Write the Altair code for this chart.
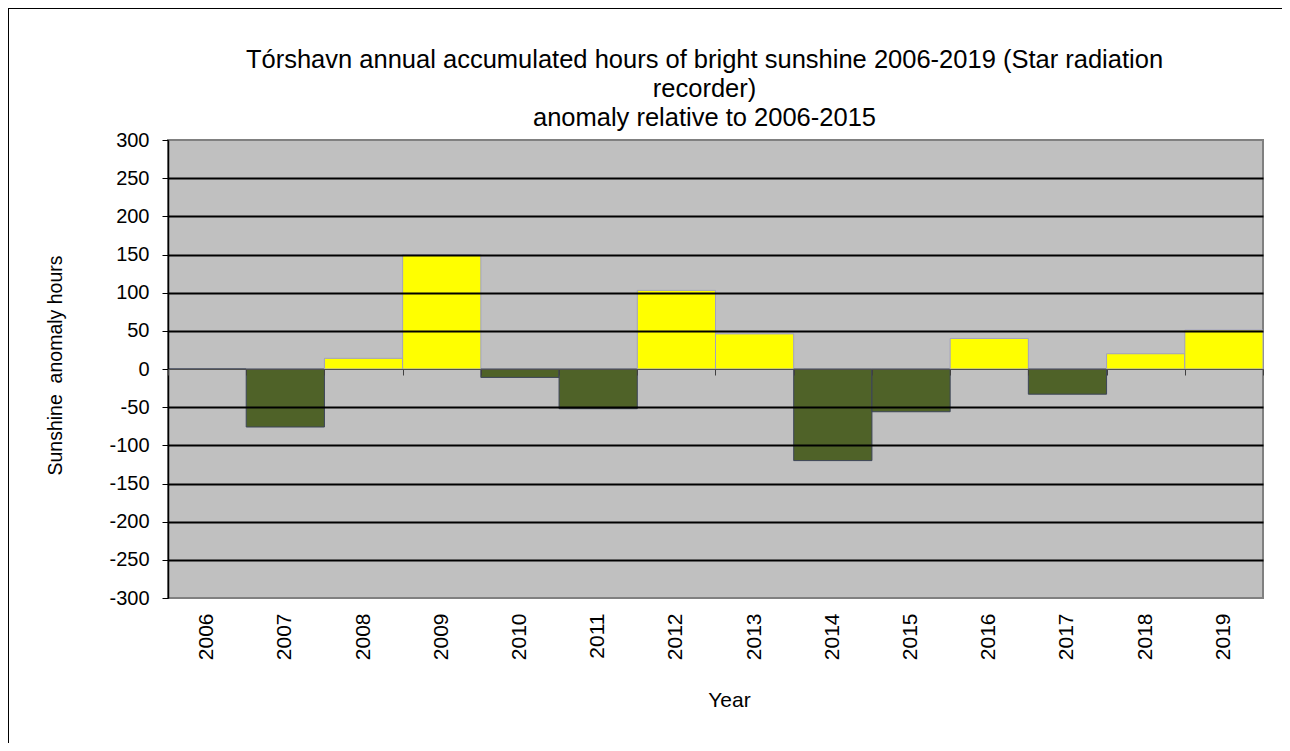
import altair as alt
import pandas as pd

YEARS = ["2006", "2007", "2008", "2009", "2010", "2011", "2012",
         "2013", "2014", "2015", "2016", "2017", "2018", "2019"]
ANOMALY = [0, -76, 14, 150, -11, -52, 103, 46, -120, -56, 40, -33, 20, 51]
Y_TICKS = list(range(-300, 301, 50))
TITLE_LINES = [
    "Tórshavn annual accumulated hours of bright sunshine 2006-2019 (Star radiation",
    "recorder)",
    "anomaly relative to 2006-2015",
]
Y_TITLE = "Sunshine \u00a0anomaly hours"
X_TITLE = "Year"

df = pd.DataFrame({"year": YEARS, "value": ANOMALY})

FONT = "Liberation Sans"
W, H = 1095, 458
PAD_L, PAD_T, PAD_R, PAD_B = 160, 132, 19, 145

xscale = alt.Scale(paddingInner=0, paddingOuter=0)
yscale = alt.Scale(domain=[-300, 300], nice=False)

bars = alt.Chart(df).mark_bar(strokeWidth=1).encode(
    x=alt.X("year:N", scale=xscale, sort=YEARS,
            axis=alt.Axis(title=X_TITLE, orient="bottom", labelAngle=270,
                          labelFontSize=21,
                          labelFont=FONT, labelColor="black", labelPadding=15,
                          ticks=False, domain=False, grid=False,
                          titleFont=FONT, titleFontSize=21, titleFontWeight="normal",
                          titleColor="black", titleX=561, titleY=108,
                          titleBaseline="alphabetic", titleAlign="center",
                          titleAnchor="start")),
    y=alt.Y("value:Q", scale=yscale,
            axis=alt.Axis(values=Y_TICKS, title=Y_TITLE,
                          labelExpr="'' + datum.value",
                          labelFont=FONT, labelFontSize=20, labelColor="black",
                          labelPadding=13, tickSize=6, tickColor="black", tickWidth=1,
                          domainColor="black", domainWidth=1.5,
                          grid=True, gridColor="black", gridWidth=2,
                          gridOpacity=alt.condition(
                              "datum.value == 0 || abs(datum.value) == 300",
                              alt.value(0), alt.value(1)),
                          titleFont=FONT, titleFontSize=19.5, titleFontWeight="normal",
                          titleColor="black", titleAngle=270, titleX=-107, titleY=225,
                          titleBaseline="alphabetic", titleAlign="center",
                          zindex=1)),
    fill=alt.condition("datum.value > 0", alt.value("#FFFF00"), alt.value("#4F6228")),
    stroke=alt.condition("datum.value > 0", alt.value("#A0A0C4"), alt.value("#3C4458")),
)

zero_axis = alt.Chart(df).mark_bar(opacity=0).encode(
    x=alt.X("year:N", scale=xscale, sort=YEARS,
            axis=alt.Axis(title=None, orient="bottom", labels=False, ticks=True,
                          tickBand="extent",
                          tickSize=6, tickColor="#404040", tickWidth=1,
                          domain=True, domainColor="#505050", domainWidth=1,
                          grid=False, offset=-H / 2, zindex=2)),
)

top_border = alt.Chart(df).mark_rule(color="black", strokeWidth=1).encode(
    x=alt.value(-PAD_L), x2=alt.value(W + PAD_R),
    y=alt.value(-PAD_T + 0.5),
)
left_border = alt.Chart(df).mark_rule(color="black", strokeWidth=1).encode(
    x=alt.value(-PAD_L + 0.5),
    y=alt.value(-PAD_T), y2=alt.value(H + PAD_B),
)

chart = alt.layer(bars, zero_axis, top_border, left_border).resolve_axis(
    x="independent"
).properties(
    width=W, height=H,
    autosize=alt.AutoSizeParams(type="none"),
    padding={"left": PAD_L, "top": PAD_T, "right": PAD_R, "bottom": PAD_B},
    background="white",
    title=alt.TitleParams(
        text=TITLE_LINES, font=FONT, fontSize=25.5, fontWeight="normal",
        color="black", lineHeight=29, anchor="middle", frame="group",
        baseline="alphabetic", offset=0, dx=-11, dy=144,
    ),
).configure_view(
    fill="#C0C0C0", stroke="#808080", strokeWidth=2
)

chart.save("out.html", embed_options={"renderer": "svg", "actions": False})
